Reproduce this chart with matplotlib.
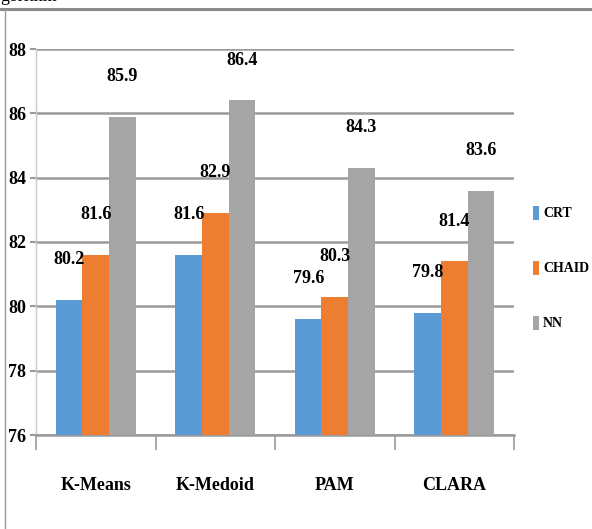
import matplotlib
matplotlib.use('Agg')
import matplotlib.pyplot as plt
import numpy as np
from matplotlib.lines import Line2D
from matplotlib.patches import Patch

categories = ['K-Means', 'K-Medoid', 'PAM', 'CLARA']
series_names = ['CRT', 'CHAID', 'NN']
crt = [80.2, 81.6, 79.6, 79.8]
chaid = [81.6, 82.9, 80.3, 81.4]
nn = [85.9, 86.4, 84.3, 83.6]
y_ticks = [76, 78, 80, 82, 84, 86, 88]

colors = ['#5B9BD5', '#ED7D31', '#A5A5A5']
font = dict(family='Liberation Serif', weight='bold')

fig = plt.figure(figsize=(5.92, 5.29), dpi=100)
ax = fig.add_axes([36 / 592, 1 - 435 / 529, 478 / 592, 386 / 529])

x = np.arange(len(categories))
w = 0.222
for i, vals in enumerate([crt, chaid, nn]):
    pos = x + (i - 1) * w
    ax.bar(pos, vals, width=w, bottom=0, color=colors[i], zorder=3, label=series_names[i])
    for p, v in zip(pos, vals):
        ax.text(p, v + 1.25, '%.1f' % v, ha='center', va='center', fontsize=13, zorder=4, **font)

ax.set_ylim(76, 88)
ax.set_xlim(-0.5, len(categories) - 0.5)
ax.set_yticks(y_ticks)
ax.set_yticklabels([str(t) for t in y_ticks], fontsize=13, **font)
ax.grid(axis='y', color='#9a9a9a', linewidth=1.8, zorder=0)

ax.set_xticks(x)
ax.set_xticklabels(categories, fontsize=13, **font)
ax.tick_params(axis='x', length=0, pad=30)
ax.set_xticks(np.arange(len(categories) + 1) - 0.5, minor=True)
ax.tick_params(axis='x', which='minor', length=11, color='#9a9a9a', width=1.2)
ax.tick_params(axis='y', length=4, color='#9a9a9a', width=1.5, pad=3)

for side in ['top', 'right']:
    ax.spines[side].set_visible(False)
ax.spines['left'].set_color('#c8c8c8')
ax.spines['left'].set_linewidth(1.0)
ax.spines['bottom'].set_color('#9a9a9a')
ax.spines['bottom'].set_linewidth(1.8)

handles = [Patch(facecolor=c) for c in colors]
fig.legend(handles, series_names, loc='center left', bbox_to_anchor=(520 / 592, 1 - 268 / 529),
           frameon=False, handlelength=0.45, handleheight=1.2, handletextpad=0.3,
           labelspacing=2.9, prop=dict(size=10, **font))

# frame of the surrounding figure box
fig.add_artist(Line2D([0, 1], [1 - 8.5 / 529] * 2, color='#8a8a8a', linewidth=2.2))
fig.add_artist(Line2D([5 / 592] * 2, [0, 1 - 8.5 / 529], color='#9a9a9a', linewidth=1.0))
# caption of the page above, only its lowest pixels are visible
fig.text(0.0, 1 - 1 / 529, 'gorithm', ha='left', va='baseline', fontsize=13, family='Liberation Serif')

fig.savefig('out.png')
